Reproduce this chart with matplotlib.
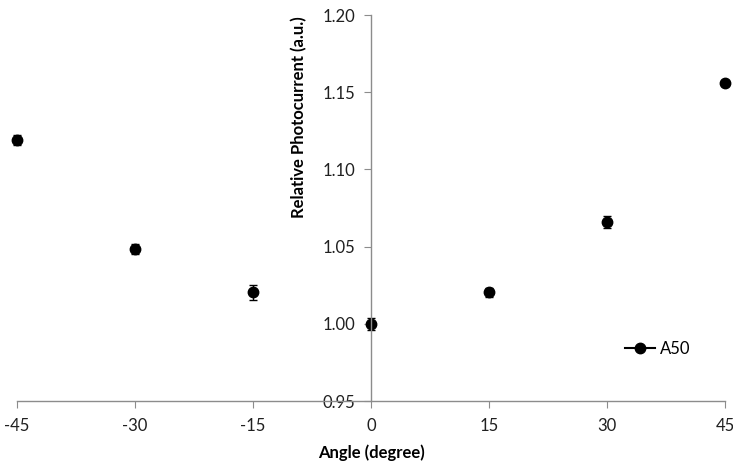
import matplotlib.pyplot as plt

angles = [-45, -30, -15, 0, 15, 30, 45]
photocurrent = [1.119, 1.0485, 1.0203, 1.000, 1.0203, 1.0658, 1.156]
errors = [0.003, 0.003, 0.005, 0.004, 0.003, 0.004, 0.002]

xticks = [-45, -30, -15, 0, 15, 30, 45]
yticks = [0.95, 1.00, 1.05, 1.10, 1.15, 1.20]

plt.rcParams['font.family'] = ['Lato', 'DejaVu Sans']
plt.rcParams['font.size'] = 12

fig = plt.figure(figsize=(7.33, 4.62), dpi=100)
ax = fig.add_axes([17 / 733, 1 - 401 / 462, 708 / 733, 386 / 462])

eb = ax.errorbar(angles, photocurrent, yerr=errors, fmt='o', color='black',
                 markersize=7.5, capsize=3, elinewidth=1, capthick=1)
for artist in eb.lines[0:1] + tuple(eb.lines[1]) + tuple(eb.lines[2]):
    artist.set_clip_on(False)
line, = ax.plot([], [], 'o-', color='black', markersize=7.5, label='A50')

ax.set_xlim(-45, 45)
ax.set_ylim(0.95, 1.20)
ax.set_xticks(xticks)
ax.set_xticklabels([str(t) for t in xticks])
ax.set_yticks(yticks)
ax.set_yticklabels([f"{t:.2f}" for t in yticks])

for s in ['top', 'right']:
    ax.spines[s].set_visible(False)
ax.spines['left'].set_position(('data', 0))
for s in ['left', 'bottom']:
    ax.spines[s].set_color('#8c8c8c')
    ax.spines[s].set_linewidth(1)
ax.tick_params(axis='both', direction='out', length=5, color='#8c8c8c',
               labelsize=12, labelcolor='#202020')
ax.tick_params(axis='x', pad=7)
ax.tick_params(axis='y', pad=6)

ax.set_xlabel("Angle (degree)", fontweight='bold', fontsize=12, labelpad=8)
ax.set_ylabel("Relative Photocurrent (a.u.)", fontweight='bold', fontsize=12)
ax.yaxis.set_label_coords(0.41, 0.735)

ax.legend([line], ['A50'], loc='center', bbox_to_anchor=(0.905, 0.135),
          frameon=False, fontsize=12, handlelength=1.8, handletextpad=0.3)

fig.savefig("out.png", dpi=100)
